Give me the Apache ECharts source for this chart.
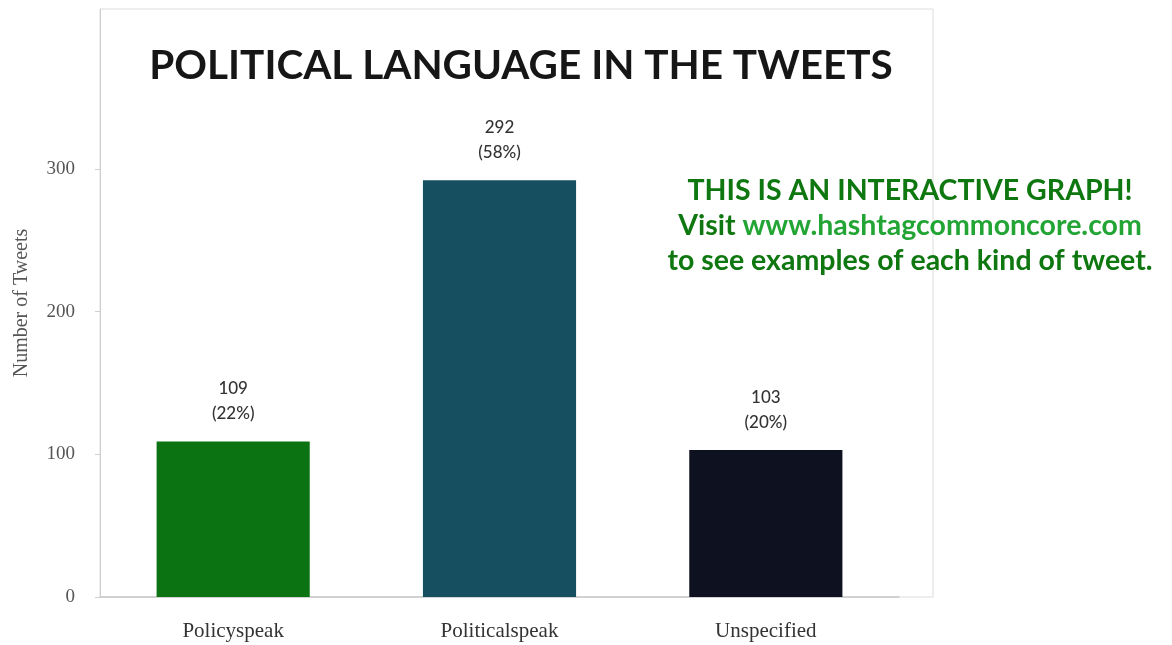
<!DOCTYPE html>
<html>
<head>
<meta charset="utf-8">
<script src="https://cdn.jsdelivr.net/npm/echarts@6/dist/echarts.min.js"></script>
<style>html,body{margin:0;padding:0;background:#fff}#c{width:1172px;height:645px}</style>
</head>
<body>
<div id="c"></div>
<script>
const categories = ['Policyspeak', 'Politicalspeak', 'Unspecified'];
const tweetCounts = [109, 292, 103];
const percentLabels = ['22%', '58%', '20%'];
const barColors = ['#0b7312', '#164f5f', '#0e1220'];
const yTickValues = [0, 100, 200, 300];
const chartTitle = 'POLITICAL LANGUAGE IN THE TWEETS';
const yAxisName = 'Number of Tweets';

const chart = echarts.init(document.getElementById('c'));
chart.setOption({
  animation: false,
  backgroundColor: '#fff',
  title: [
    {
      text: chartTitle,
      left: 516, top: 40, textAlign: 'center',
      textStyle: { fontFamily: 'Lato', fontWeight: 'bold', fontSize: 40.5, color: '#161616' }
    },
    {
      text: '{a|THIS IS AN INTERACTIVE GRAPH!}\n{a|Visit }{b|www.hashtagcommoncore.com}\n{a|to see examples of each kind of tweet.}',
      left: 905, top: 168, textAlign: 'center',
      textStyle: {
        rich: {
          a: { fontFamily: 'Lato', fontWeight: 'bold', fontSize: 28.5, color: '#0f770f', lineHeight: 35, align: 'center' },
          b: { fontFamily: 'Lato', fontWeight: 'bold', fontSize: 28.5, color: '#22a535', lineHeight: 35, align: 'center' }
        }
      }
    }
  ],
  grid: [
    { left: 100, right: 273, top: 9, bottom: 48, show: false },
    { left: 100, right: 239, top: 9, bottom: 48, show: true, borderColor: '#dcdcdc', borderWidth: 1, backgroundColor: 'transparent' }
  ],
  xAxis: [
    {
      type: 'category', data: categories, gridIndex: 0,
      axisLine: { show: true, lineStyle: { color: '#c8c8c8', width: 1.5 } },
      axisTick: { show: false },
      axisLabel: { fontFamily: 'Liberation Serif', fontSize: 21, color: '#333', margin: 24 }
    },
    { type: 'value', gridIndex: 1, show: false }
  ],
  yAxis: [
    {
      type: 'value', gridIndex: 0, min: 0, max: 412,
      name: yAxisName, nameLocation: 'middle', nameGap: 68,
      nameTextStyle: { fontFamily: 'Liberation Serif', fontSize: 20, color: '#555' },
      axisLine: { show: true, lineStyle: { color: '#cfcfcf' } },
      axisTick: { show: true, customValues: yTickValues, length: 5, lineStyle: { color: '#cfcfcf' } },
      axisLabel: { customValues: yTickValues, fontFamily: 'Liberation Serif', fontSize: 19, color: '#555', margin: 25 },
      splitLine: { show: false }
    },
    { type: 'value', gridIndex: 1, show: false }
  ],
  series: [{
    type: 'bar',
    xAxisIndex: 0, yAxisIndex: 0,
    barWidth: '57.5%',
    data: tweetCounts.map((v, i) => ({ value: v, itemStyle: { color: barColors[i] } })),
    label: {
      show: true, position: 'top', distance: 15,
      fontFamily: 'Lato', fontWeight: 500, fontSize: 17, color: '#333', lineHeight: 25,
      formatter: p => p.value + '\n(' + percentLabels[p.dataIndex] + ')'
    }
  }]
});
</script>
</body>
</html>
